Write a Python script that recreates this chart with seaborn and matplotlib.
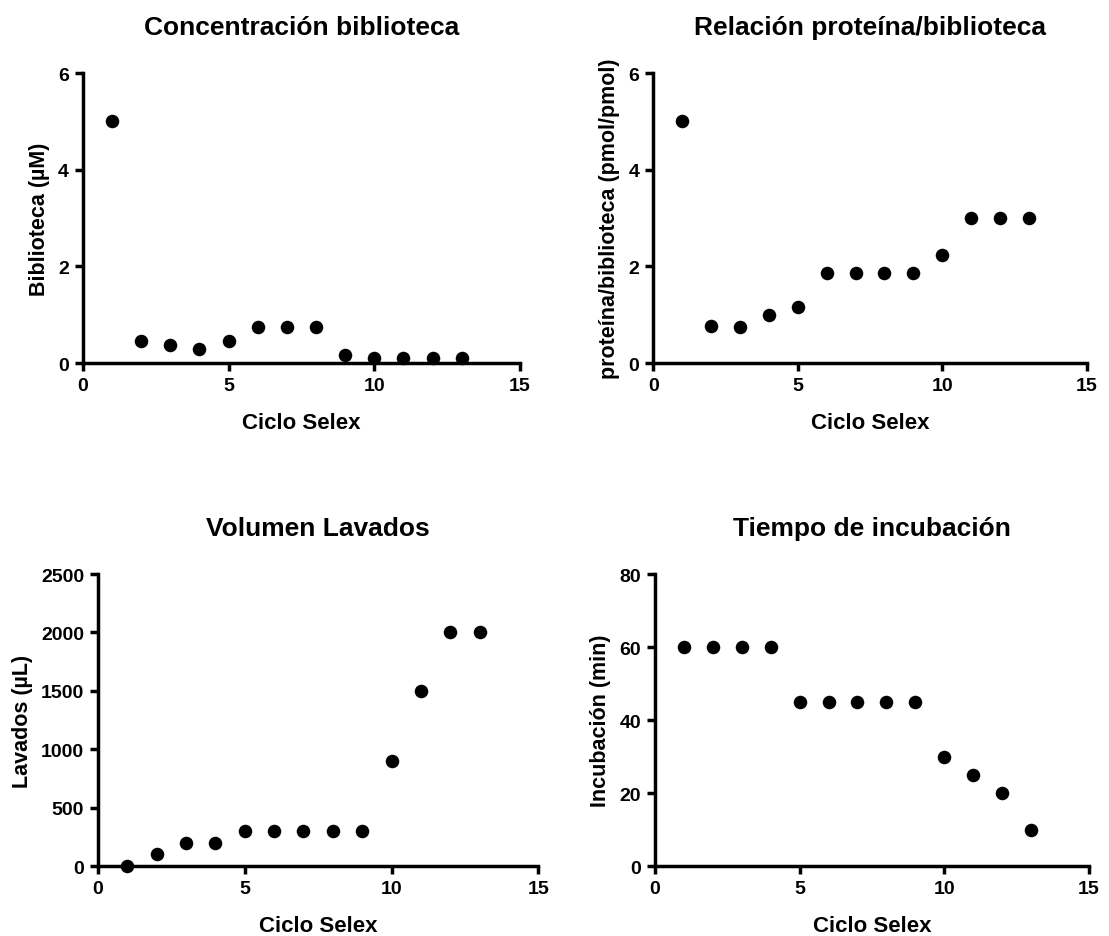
import pandas as pd
import seaborn as sns
import matplotlib.pyplot as plt

ciclo = [1, 2, 3, 4, 5, 6, 7, 8, 9, 10, 11, 12, 13]
biblioteca_uM = [5.0, 0.45, 0.37, 0.29, 0.45, 0.74, 0.74, 0.74, 0.16, 0.10, 0.10, 0.10, 0.10]
proteina_biblioteca = [5.0, 0.77, 0.74, 0.99, 1.15, 1.86, 1.86, 1.86, 1.86, 2.23, 3.0, 3.0, 3.0]
lavados_uL = [0, 100, 200, 200, 300, 300, 300, 300, 300, 900, 1500, 2000, 2000]
incubacion_min = [60, 60, 60, 60, 45, 45, 45, 45, 45, 30, 25, 20, 10]

df = pd.DataFrame({
    "ciclo": ciclo,
    "biblioteca": biblioteca_uM,
    "relacion": proteina_biblioteca,
    "lavados": lavados_uL,
    "incubacion": incubacion_min,
})

sns.set_style("ticks")
plt.rcParams["font.family"] = ["Liberation Sans", "DejaVu Sans"]
plt.rcParams["font.weight"] = "bold"
for k in ["text.color", "axes.labelcolor", "xtick.color", "ytick.color", "axes.edgecolor"]:
    plt.rcParams[k] = "black"

fig = plt.figure(figsize=(11.09, 9.37), dpi=100)

panels = [
    ("biblioteca", "Concentración biblioteca", "Biblioteca (µM)", (0, 6), [0, 2, 4, 6],
     [0.0748, 0.6115, 0.394, 0.3095]),
    ("relacion", "Relación proteína/biblioteca", "proteína/biblioteca (pmol/pmol)", (0, 6), [0, 2, 4, 6],
     [0.589, 0.6115, 0.391, 0.3095]),
    ("lavados", "Volumen Lavados", "Lavados (µL)", (0, 2500), [0, 500, 1000, 1500, 2000, 2500],
     [0.0884, 0.0747, 0.397, 0.3116]),
    ("incubacion", "Tiempo de incubación", "Incubación (min)", (0, 80), [0, 20, 40, 60, 80],
     [0.5906, 0.0747, 0.3913, 0.3116]),
]

for col, title, ylabel, ylim, yticks, rect in panels:
    ax = fig.add_axes(rect)
    sns.scatterplot(data=df, x="ciclo", y=col, ax=ax, color="black",
                    s=95, edgecolor="black", linewidth=0, clip_on=False, zorder=3)
    ax.set_xlim(0, 15)
    ax.set_ylim(*ylim)
    ax.set_xticks([0, 5, 10, 15])
    ax.set_yticks(yticks)
    sns.despine(ax=ax)
    for sp in ["left", "bottom"]:
        ax.spines[sp].set_linewidth(2.5)
    ax.tick_params(width=2.5, length=6, labelsize=14, direction="out", pad=4)
    for lab in ax.get_xticklabels() + ax.get_yticklabels():
        lab.set_fontweight("bold")
    ax.set_title(title, fontsize=19, fontweight="bold", pad=28)
    ax.set_xlabel("Ciclo Selex", fontsize=16, fontweight="bold", labelpad=13)
    ax.set_ylabel(ylabel, fontsize=15.5, fontweight="bold", labelpad=6)

fig.savefig("out.png", dpi=100)
